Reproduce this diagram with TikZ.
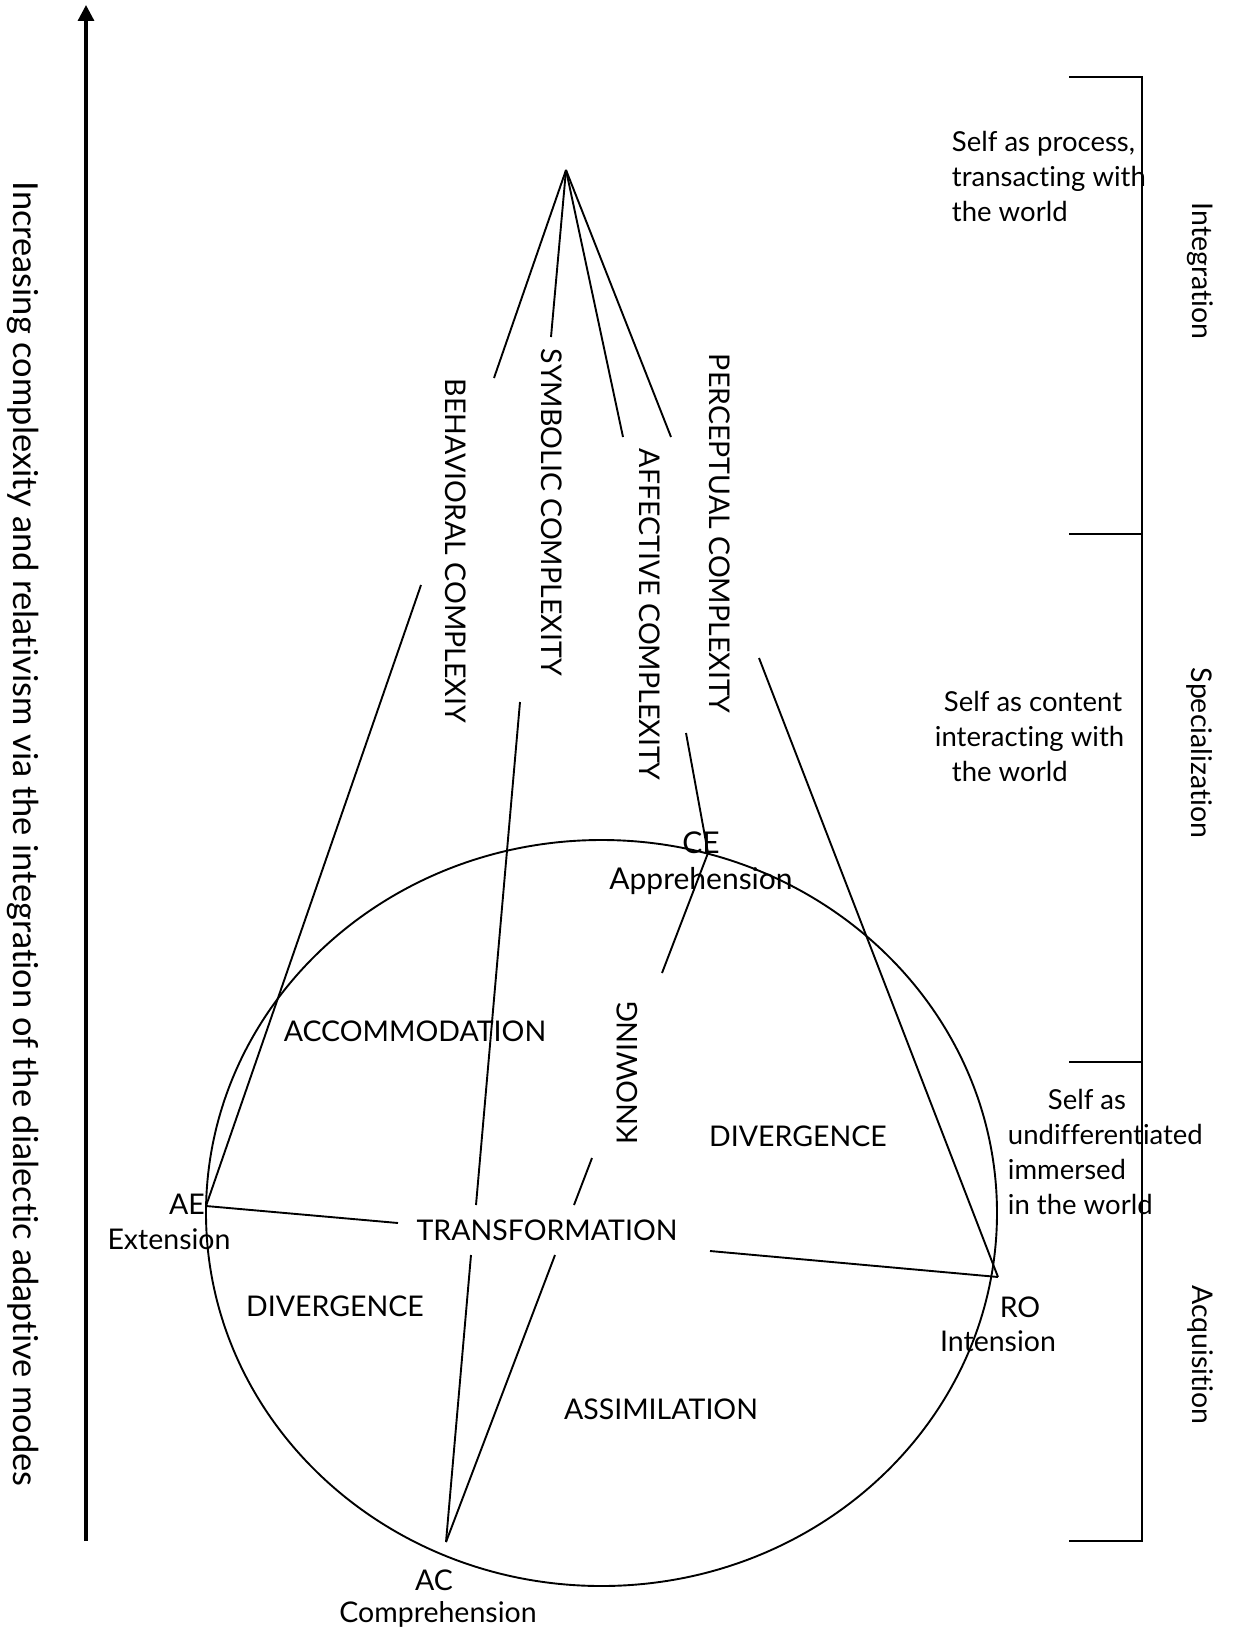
\documentclass[tikz,border=0pt]{standalone}
\usepackage{fontspec}
\setmainfont{Lato}[Ligatures=NoCommon]
\usetikzlibrary{arrows.meta,calc}
\begin{document}
\begin{tikzpicture}[x=1pt,y=-1pt,line width=1.9pt,
  lbl/.style={inner sep=0pt,font=\fontsize{28.5}{35}\selectfont},
  biglbl/.style={inner sep=0pt,font=\fontsize{30}{36}\selectfont},
  vlbl/.style={lbl,rotate=-90},
  blk/.style={inner sep=0pt,font=\fontsize{27.5}{35}\selectfont,align=left,anchor=base west}]
\useasboundingbox (0,0) rectangle (1244,1629);
% axis arrow and its text
\coordinate (axbot) at (86,1541);
\coordinate (axtop) at (86,5);
\draw[line width=3.2pt,-{Triangle[width=16pt,length=16pt]}] (axbot) -- (axtop);
\node[inner sep=0pt,rotate=-90,font=\fontsize{34.4}{40}\selectfont] (axis) at (23,834) {Increasing complexity and relativism via the integration of the dialectic adaptive modes};
% key points
\coordinate (apex) at (566,170);
\coordinate (AEp) at (206,1206);
\coordinate (ROp) at (998,1277);
\coordinate (ACp) at (446,1542);
\coordinate (CEp) at (708,853);
\coordinate (b1) at (494,378);
\coordinate (s1) at (551,337);
\coordinate (a1) at (623,437);
\coordinate (p1) at (671,437);
\coordinate (b2) at (421,585);
\coordinate (s2) at (520,702);
\coordinate (a2) at (686,733);
\coordinate (p2) at (759,658);
\coordinate (s3) at (476,1205);
\coordinate (s4) at (471,1255);
\coordinate (k1) at (662,973);
\coordinate (k2) at (592,1158);
\coordinate (k3) at (574,1205);
\coordinate (k4) at (555,1255);
\coordinate (t1) at (398,1223);
\coordinate (t2) at (710,1251);
% ellipse
\draw (601.5,1213) ellipse [x radius=395.5pt,y radius=373pt];
% fan
\draw (apex) -- (b1);
\draw (apex) -- (s1);
\draw (apex) -- (a1);
\draw (apex) -- (p1);
% lower lines
\draw (b2) -- (AEp);
\draw (s2) -- (s3);
\draw (s4) -- (ACp);
\draw (a2) -- (CEp) -- (k1);
\draw (k2) -- (k3);
\draw (k4) -- (ACp);
\draw (p2) -- (ROp);
\draw (AEp) -- (t1);
\draw (t2) -- (ROp);
% vertical labels
\node[vlbl,anchor=west] (beh) at (456,378) {BEHAVIORAL COMPLEXIY};
\node[vlbl,anchor=west] (sym) at (552,348) {SYMBOLIC COMPLEXITY};
\node[vlbl,anchor=west] (aff) at (650,448) {AFFECTIVE COMPLEXITY};
\node[vlbl,anchor=west] (per) at (720,353) {PERCEPTUAL COMPLEXITY};
\node[lbl,rotate=90] (know) at (627,1073) {KNOWING};
% region labels
\node[lbl] (acc) at (415,1031) {ACCOMMODATION};
\node[lbl] (divr) at (798,1136) {DIVERGENCE};
\node[lbl] (trans) at (547,1230) {TRANSFORMATION};
\node[lbl] (divl) at (335,1306) {DIVERGENCE};
\node[lbl] (assim) at (661,1409) {ASSIMILATION};
% pole labels
\node[biglbl] (CE) at (701,843) {CE};
\node[biglbl] (appr) at (701,881) {Apprehension};
\node[lbl] (AE) at (187,1204) {AE};
\node[lbl] (ext) at (169,1239) {Extension};
\node[lbl] (RO) at (1020,1307) {RO};
\node[lbl] (int) at (998,1341) {Intension};
\node[lbl] (AC) at (434,1580) {AC};
\node[lbl] (comp) at (438,1614) {Comprehension};
% right bracket
\draw (1069,77) -- (1142,77) -- (1142,1541) -- (1069,1541);
\draw (1069,534) -- (1142,534);
\draw (1069,1062) -- (1142,1062);
\node[vlbl] (integ) at (1200,271) {Integration};
\node[vlbl] (spec) at (1200,753) {Specialization};
\node[vlbl] (acq) at (1200,1355) {Acquisition};
% self texts
\node[blk] (selfproc) at (951,222) {Self as process,\\transacting with\\the world};
\node[blk] (selfcont) at (934,781) {\hspace*{9pt}Self as content\\interacting with\\\hspace*{17pt}the world};
\node[blk] (selfund) at (1007,1214) {\hspace*{40pt}Self as\\undifferentiated\\immersed\\in the world};
\end{tikzpicture}
\end{document}
